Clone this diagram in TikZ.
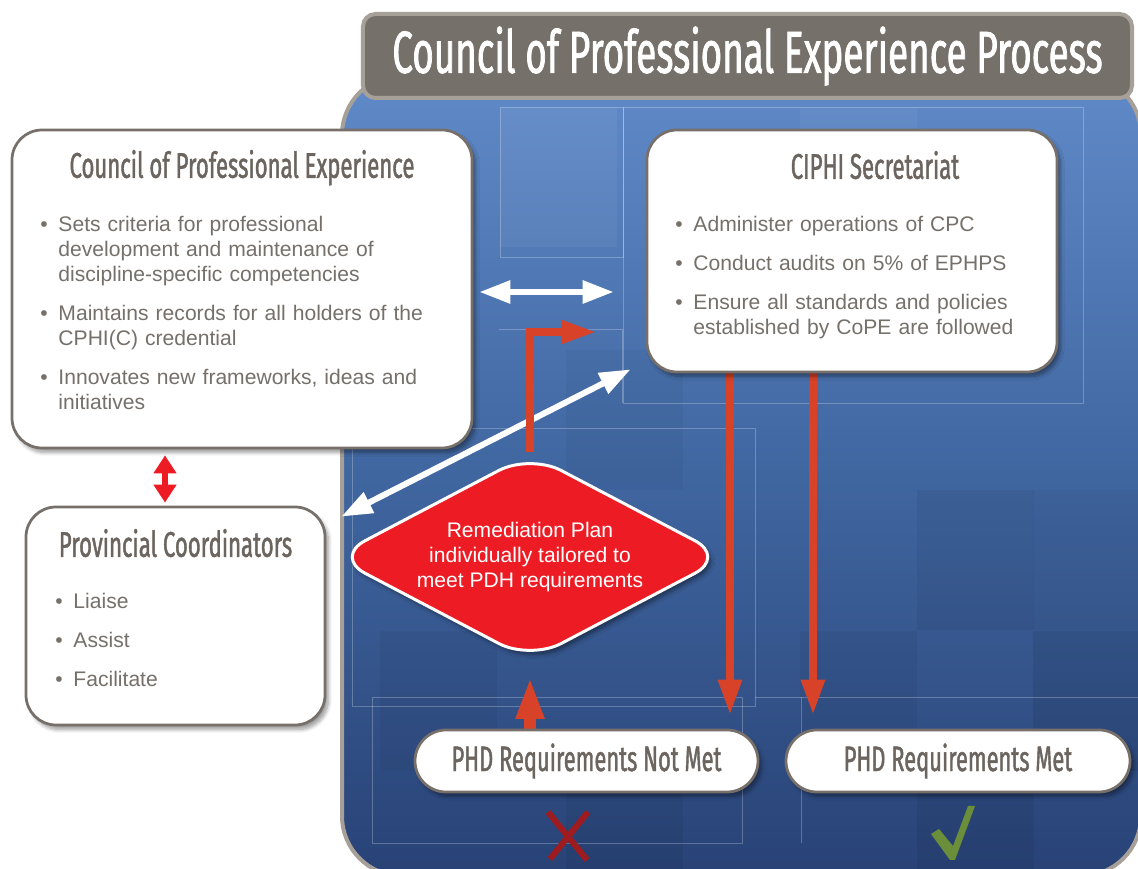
\documentclass[tikz,border=0pt]{standalone}
\usepackage{fontspec}
\setmainfont{Liberation Sans}
\newfontfamily\headfont[FakeStretch=0.62, FakeBold=1.2]{Fira Sans}
\usepackage{tikz}
\usetikzlibrary{positioning,shapes.geometric,arrows.meta,shadows.blur,backgrounds}

\definecolor{boxgray}{RGB}{119,112,106}
\definecolor{textgray}{RGB}{118,112,107}
\definecolor{headgray}{RGB}{108,101,95}
\definecolor{bargray}{RGB}{118,112,106}
\definecolor{rimgray}{RGB}{166,160,153}
\definecolor{planred}{RGB}{237,28,36}
\definecolor{flowred}{RGB}{216,66,40}
\definecolor{crossred}{RGB}{158,27,32}
\definecolor{tickgreen}{RGB}{107,142,58}
\definecolor{paneltop}{RGB}{96,138,200}
\definecolor{panelmid}{RGB}{64,102,160}
\definecolor{panelbot}{RGB}{40,66,118}

% bullet point with hanging indent
\newcommand{\bitem}[1]{\hangindent=3.6mm\hangafter=1\noindent\makebox[3.6mm][l]{\textbullet}#1\par}

\begin{document}
\begin{tikzpicture}[x=0.2mm, y=-0.2mm,
infobox/.style={rectangle, draw=boxgray, line width=0.55mm, fill=white, rounded corners=6mm,
  blur shadow={shadow xshift=0.7mm, shadow yshift=-0.9mm, shadow blur steps=8, shadow opacity=40}},
pillnode/.style={infobox, rounded corners=6.2mm, minimum width=68.6mm, minimum height=12.4mm,
  font=\headfont\fontsize{20.1}{22}\selectfont, text=headgray},
titlebar/.style={rectangle, draw=rimgray, line width=0.8mm, fill=bargray, rounded corners=2.5mm,
  minimum width=153.8mm, minimum height=16.8mm, text=white, font=\headfont\fontsize{33.8}{36}\selectfont},
plannode/.style={diamond, draw=white, line width=0.6mm, fill=planred, rounded corners=7mm,
  minimum width=78.6mm, minimum height=41.4mm, shape aspect=1.89, inner sep=0pt,
  text=white, align=center, font=\fontsize{12}{14.17}\selectfont,
  blur shadow={shadow xshift=0.7mm, shadow yshift=-0.9mm, shadow opacity=40}},
headtext/.style={font=\headfont\fontsize{20.3}{22}\selectfont, text=headgray, inner sep=0pt},
listtext/.style={font=\fontsize{12}{14.17}\selectfont, text=textgray, inner sep=0pt, align=left, text width=#1},
whitearrow/.style={draw=white, line width=1.2mm, {Triangle[length=6.2mm,width=4.4mm]}-{Triangle[length=6.2mm,width=4.4mm]}},
reddouble/.style={draw=planred, line width=1.2mm, {Triangle[length=3.6mm,width=4.4mm]}-{Triangle[length=3.6mm,width=4.4mm]}},
flowarrow/.style={draw=flowred, line width=1.7mm, -{Triangle[length=7.2mm,width=4.4mm]}},
uparrow/.style={draw=flowred, line width=2.5mm, -{Triangle[length=8.4mm,width=5.2mm]}},
gridline/.style={draw=white, draw opacity=0.25, line width=0.15mm}]

\useasboundingbox (0,0) rectangle (1138,869);

\node[titlebar] (0) at (747.5,56) {Council of Professional Experience Process};

\node[infobox, minimum width=92mm, minimum height=63.6mm] (1) at (242,289) {};
\node[headtext, below=4.2mm of 1.north] (1t) {Council of Professional Experience};
\node[listtext=82mm, below right=17.4mm and 5.9mm of 1.north west] (1l) {\setlength{\parskip}{8.2pt}%
  \bitem{Sets criteria for professional\newline development and maintenance of\newline discipline-specific competencies}%
  \bitem{Maintains records for all holders of the\newline CPHI(C) credential}%
  \bitem{Innovates new frameworks, ideas and\newline initiatives}};

\node[infobox, minimum width=82mm, minimum height=48.4mm] (2) at (852,251) {};
\node[headtext, below=4.4mm of 2.north, xshift=4.6mm] (2t) {CIPHI Secretariat};
\node[listtext=78mm, below right=17.4mm and 5.9mm of 2.north west] (2l) {\setlength{\parskip}{8.2pt}%
  \bitem{Administer operations of CPC}%
  \bitem{Conduct audits on 5\% of EPHPS}%
  \bitem{Ensure all standards and policies\newline established by CoPE are followed}};

\node[infobox, minimum width=59.8mm, minimum height=43.6mm] (3) at (175.5,616) {};
\node[headtext, below=4.6mm of 3.north] (3t) {Provincial Coordinators};
\node[listtext=50mm, below right=17.4mm and 6.1mm of 3.north west] (3l) {\setlength{\parskip}{8.2pt}%
  \bitem{Liaise}%
  \bitem{Assist}%
  \bitem{Facilitate}};

\node[plannode] (4) at (530,557) {Remediation Plan\\individually tailored to\\meet PDH requirements};

\node[pillnode] (5) at (586.5,761) {PHD Requirements Not Met};
\node[pillnode, minimum width=68.8mm] (6) at (958,761) {PHD Requirements Met};

% blue panel with tiles, kept behind the boxes
\begin{pgfonlayer}{background}
\path[top color=paneltop, bottom color=panelbot, middle color=panelmid, rounded corners=12mm]
  (342,75) rectangle (1141,876);
\begin{scope}
  \clip[rounded corners=12mm] (342,75) rectangle (1141,876);
  \foreach \tx/\ty/\tc/\op in {500/107/white/0.05, 800/107/white/0.04, 917/210/black/0.04,
                               566/350/black/0.03, 917/490/black/0.05, 1033/490/black/0.03,
                               800/631/black/0.04, 1033/631/black/0.08, 380/631/black/0.04,
                               566/770/black/0.05, 917/770/black/0.06}
    \fill[\tc, opacity=\op] (\tx,\ty) rectangle ++(117,140);
  \draw[gridline] (500,107) rectangle (623,257);
  \draw[gridline] (623,107) rectangle (1083,403);
  \draw[gridline] (499,329) -- (622,329) -- (622,403);
  \draw[gridline] (352,428) rectangle (755,706);
  \draw[gridline] (372,697) rectangle (742,843);
  \draw[gridline] (755,697) -- (1138,697);
  \draw[gridline] (801,697) -- (801,843);
\end{scope}
\draw[rimgray, line width=0.8mm, rounded corners=12mm] (342,75) rectangle (1141,876);
\end{pgfonlayer}

% connectors
\coordinate (h) at (0,292);
\coordinate (r) at (165,480);
\coordinate (l) at (597,332);
\coordinate (c1) at (730,0);
\coordinate (c2) at (813,0);
\begin{pgfonlayer}{background}
\draw[whitearrow, shorten <=1.2mm, shorten >=6.4mm] (1.east |- h) -- (2.west |- h);
\draw[whitearrow] ([xshift=3mm, yshift=-2.2mm]3.north east) -- ([xshift=-3mm, yshift=0.8mm]2.south west);
\draw[reddouble, shorten <=1.2mm, shorten >=0.6mm] (1.south -| r) -- (3.north -| r);
\draw[flowarrow] (4.north) |- (l);
\draw[flowarrow, shorten >=2.6mm] (2.south -| c1) -- (5.north -| c1);
\draw[flowarrow, shorten >=2.6mm] (2.south -| c2) -- (6.north -| c2);
\draw[uparrow, shorten >=3mm] (5.north -| 4.south) -- (4.south);
\end{pgfonlayer}

% cross and tick marks
\draw[crossred, line width=1.2mm] (548,812) -- (587,860);
\draw[crossred, line width=1.2mm] (588,812) -- (550,859);
\fill[tickgreen] (931,834) -- (939,829) -- (953,846) -- (968,806) -- (975,806) -- (955,860) -- (950,860) -- cycle;
\end{tikzpicture}
\end{document}
